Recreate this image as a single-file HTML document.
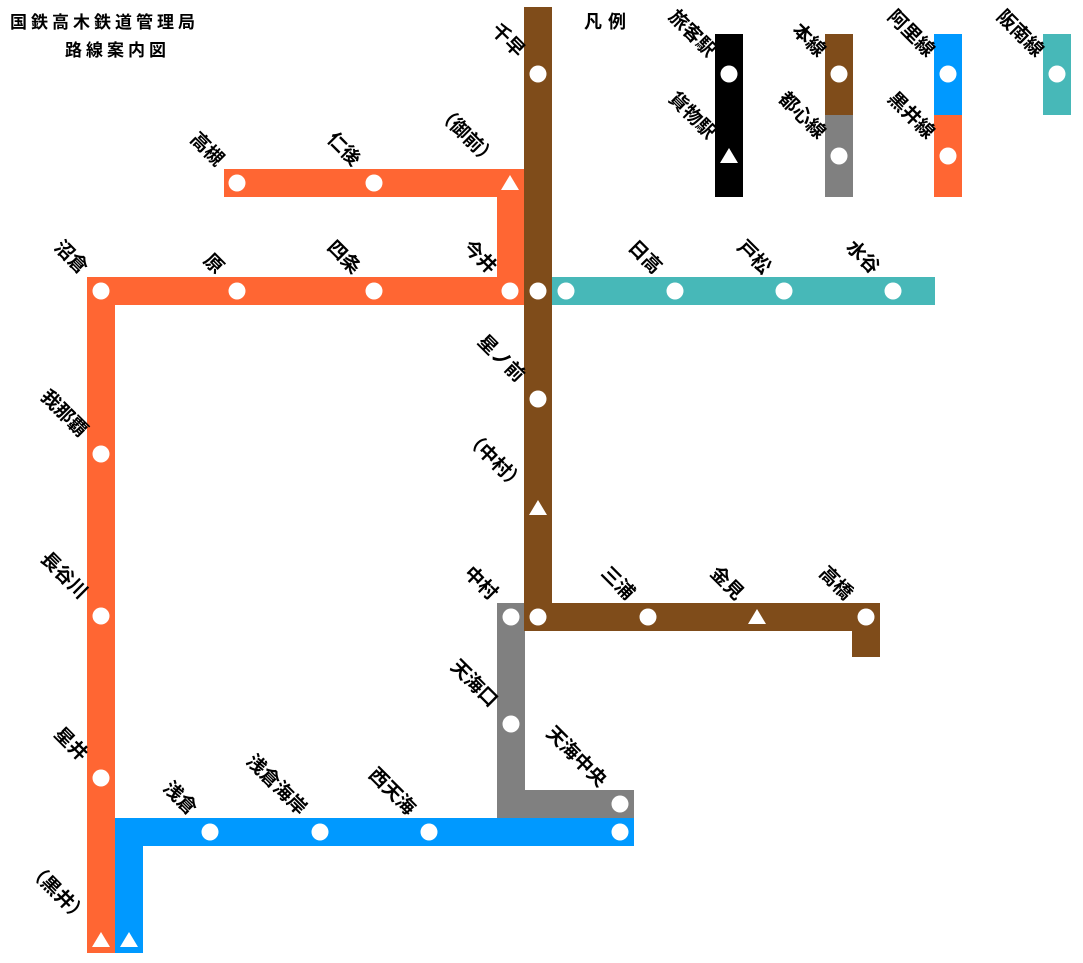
<!DOCTYPE html>
<html><head><meta charset="utf-8"><style>
html,body{margin:0;padding:0;background:#fff;}
svg{display:block;}
text{font-family:"Liberation Sans","Noto Sans CJK JP",sans-serif;font-weight:bold;font-size:19px;fill:#000;}
</style></head><body>
<svg width="1083" height="963" viewBox="0 0 1083 963" xmlns="http://www.w3.org/2000/svg">
<defs>
<circle id="c" r="8.5" fill="#fff"/>
<polygon id="t" points="0,-8 9,7 -9,7" fill="#fff"/>
</defs>
<text x="10" y="28" style="letter-spacing:4px;font-size:17px">国鉄高木鉄道管理局</text>
<text x="65" y="56" style="letter-spacing:4px;font-size:17px">路線案内図</text>
<text x="584" y="28" style="letter-spacing:6px;font-size:18px">凡例</text>

<rect x="224" y="169" width="300" height="28" fill="#ff6633"/>
<rect x="497" y="169" width="27" height="136" fill="#ff6633"/>
<rect x="87" y="277" width="437" height="28" fill="#ff6633"/>
<rect x="87" y="277" width="28" height="676" fill="#ff6633"/>
<rect x="552" y="277" width="383" height="28" fill="#47b8b8"/>
<rect x="497" y="603" width="28" height="215" fill="#808080"/>
<rect x="497" y="790" width="137" height="28" fill="#808080"/>
<rect x="115" y="818" width="519" height="28" fill="#0099ff"/>
<rect x="115" y="818" width="28" height="135" fill="#0099ff"/>
<rect x="524" y="7" width="28" height="624" fill="#7f4c1a"/>
<rect x="524" y="603" width="356" height="28" fill="#7f4c1a"/>
<rect x="852" y="603" width="28" height="54" fill="#7f4c1a"/>

<rect x="715" y="34" width="28" height="163" fill="#000"/>
<rect x="825" y="34" width="28" height="81" fill="#7f4c1a"/>
<rect x="825" y="115" width="28" height="82" fill="#808080"/>
<rect x="934" y="34" width="28" height="81" fill="#0099ff"/>
<rect x="934" y="115" width="28" height="82" fill="#ff6633"/>
<rect x="1043" y="34" width="28" height="81" fill="#47b8b8"/>
<use href="#c" x="729" y="74"/><use href="#t" x="729" y="156"/>
<use href="#c" x="839" y="74"/><use href="#c" x="839" y="156"/>
<use href="#c" x="948" y="74"/><use href="#c" x="948" y="156"/>
<use href="#c" x="1057" y="74"/>

<use href="#c" x="538" y="74"/>
<use href="#c" x="237" y="183"/><use href="#c" x="374" y="183"/><use href="#t" x="510" y="183"/>
<use href="#c" x="101" y="291"/><use href="#c" x="237" y="291"/><use href="#c" x="374" y="291"/><use href="#c" x="510" y="291"/><use href="#c" x="538" y="291"/>
<use href="#c" x="566" y="291"/><use href="#c" x="675" y="291"/><use href="#c" x="784" y="291"/><use href="#c" x="893" y="291"/>
<use href="#c" x="538" y="399"/><use href="#t" x="538" y="508"/>
<use href="#c" x="511" y="617"/><use href="#c" x="538" y="617"/><use href="#c" x="648" y="617"/><use href="#t" x="757" y="617"/><use href="#c" x="866" y="617"/>
<use href="#c" x="511" y="724"/><use href="#c" x="620" y="804"/>
<use href="#c" x="101" y="454"/><use href="#c" x="101" y="616"/><use href="#c" x="101" y="778"/><use href="#t" x="101" y="940"/>
<use href="#c" x="210" y="832"/><use href="#c" x="320" y="832"/><use href="#c" x="429" y="832"/><use href="#c" x="620" y="832"/>
<use href="#t" x="129" y="940"/>

<g text-anchor="end">
<text transform="translate(708,58) rotate(45)">旅客駅</text>
<text transform="translate(708,140) rotate(45)">貨物駅</text>
<text transform="translate(818,58) rotate(45)">本線</text>
<text transform="translate(818,140) rotate(45)">都心線</text>
<text transform="translate(927,58) rotate(45)">阿里線</text>
<text transform="translate(927,140) rotate(45)">黒井線</text>
<text transform="translate(1036,58) rotate(45)">阪南線</text>

<text transform="translate(517,58) rotate(45)">千早</text>
<text transform="translate(216,167) rotate(45)">高槻</text>
<text transform="translate(353,167) rotate(45)">仁後</text>
<text transform="translate(489,167) rotate(45)">（御前）</text>
<text transform="translate(80,275) rotate(45)">沼倉</text>
<text transform="translate(216,275) rotate(45)">原</text>
<text transform="translate(353,275) rotate(45)">四条</text>
<text transform="translate(489,275) rotate(45)">今井</text>
<text transform="translate(654,275) rotate(45)">日高</text>
<text transform="translate(763,275) rotate(45)">戸松</text>
<text transform="translate(872,275) rotate(45)">水谷</text>
<text transform="translate(517,383) rotate(45)">星ノ前</text>
<text transform="translate(517,492) rotate(45)">（中村）</text>
<text transform="translate(490,601) rotate(45)">中村</text>
<text transform="translate(627,601) rotate(45)">三浦</text>
<text transform="translate(736,601) rotate(45)">金見</text>
<text transform="translate(845,601) rotate(45)">高橋</text>
<text transform="translate(490,708) rotate(45)">天海口</text>
<text transform="translate(599,788) rotate(45)">天海中央</text>
<text transform="translate(80,438) rotate(45)">我那覇</text>
<text transform="translate(80,600) rotate(45)">長谷川</text>
<text transform="translate(80,762) rotate(45)">星井</text>
<text transform="translate(80,924) rotate(45)">（黒井）</text>
<text transform="translate(189,816) rotate(45)">浅倉</text>
<text transform="translate(299,816) rotate(45)">浅倉海岸</text>
<text transform="translate(408,816) rotate(45)">西天海</text>
</g>
</svg>
</body></html>
